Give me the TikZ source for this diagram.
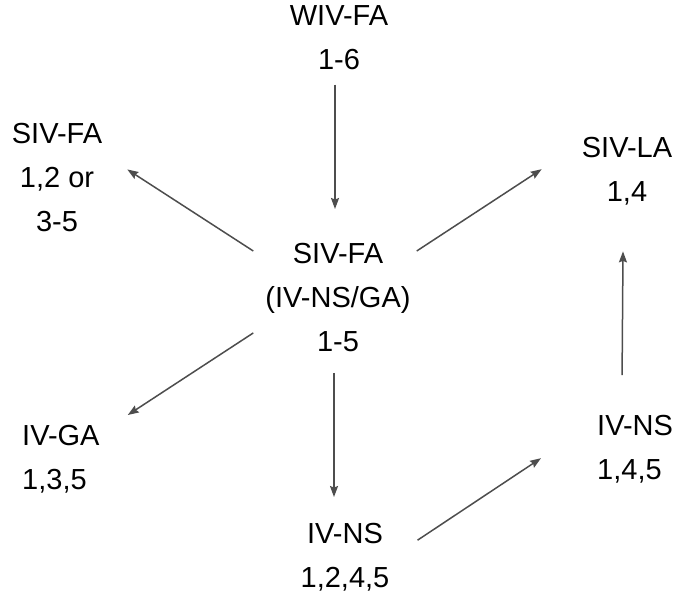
\documentclass[tikz,border=0pt]{standalone}
\usepackage{fontspec}
\setmainfont{Liberation Sans}
\usetikzlibrary{arrows.meta}
\definecolor{flowgray}{HTML}{4D4D4D}

\begin{document}
\begin{tikzpicture}[x=1pt, y=-1pt,
state/.style={inner sep=0pt, align=center, anchor=north, font=\fontsize{29}{44}\selectfont},
flow/.style={draw=flowgray, line width=1.5pt, -{Stealth[length=11pt, width=8pt, inset=1.5pt]}}]
\useasboundingbox (0,0) rectangle (674,598);
\node[state] (wiv fa) at (339,5) {WIV-FA\\1-6};
\node[state] (hub) at (338,243) {SIV-FA\\(IV-NS/GA)\\1-5};
\node[state] (siv fa) at (57,123) {SIV-FA\\1,2 or\\3-5};
\node[state] (siv la) at (627,137) {SIV-LA\\1,4};
\node[state, align=left, anchor=north west] (iv ga) at (22,425) {IV-GA\\1,3,5};
\node[state] (iv ns low) at (345,523) {IV-NS\\1,2,4,5};
\node[state, align=left, anchor=north west] (iv ns high) at (597,415) {IV-NS\\1,4,5};

\draw[flow] ([shift={(-4,15)}]wiv fa.south) -- ([shift={(-3,-34)}]hub.north);
\draw[flow] ([shift={(-12,8)}]hub.north west) -- ([shift={(25,-8)}]siv fa.east);
\draw[flow] ([shift={(6,8)}]hub.north east) -- ([shift={(-40,-2)}]siv la.west);
\draw[flow] ([shift={(-12,-19)}]hub.south west) -- ([shift={(28,-10)}]iv ga.north east);
\draw[flow] ([shift={(-4,21)}]hub.south) -- ([shift={(-11,-26)}]iv ns low.north);
\draw[flow] ([shift={(28,-17)}]iv ns low.east) -- ([shift={(-56,9)}]iv ns high.west);
\draw[flow] ([shift={(-13,-40)}]iv ns high.north) -- ([shift={(-4,46)}]siv la.south);
\end{tikzpicture}
\end{document}
